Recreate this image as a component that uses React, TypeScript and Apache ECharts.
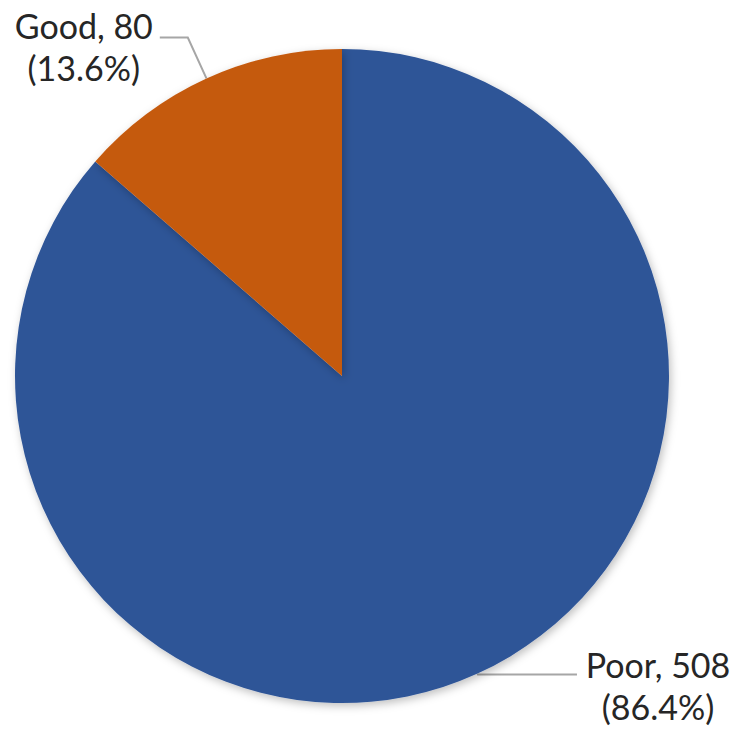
import React, { useEffect, useRef } from "react";
import * as echarts from "echarts";

const categories = ["Poor", "Good"];
const counts = [508, 80];
const percents = ["86.4%", "13.6%"];
const colors = ["#2F5597", "#C55A11"];

export default function App() {
  const ref = useRef<HTMLDivElement>(null);
  useEffect(() => {
    if (!ref.current) return;
    const chart = echarts.init(ref.current, null, { renderer: "svg" });
    const font = "Lato, 'Open Sans', sans-serif";
    const data = categories.map((name, i) => ({
      name,
      value: counts[i],
      itemStyle: { color: colors[i] },
      label: {
        formatter: `{a|${name}, ${counts[i]}}\n{a|(${percents[i]})}`,
        padding: i === 0 ? [22, 0, 0, 0] : [18, 0, 0, 0],
        rich: {
          a: {
            width: i === 0 ? 150 : 140,
            align: "center",
            fontSize: 34,
            lineHeight: 42,
            color: "#262626",
            fontFamily: font,
          },
        },
      },
      labelLine: i === 0 ? { length: 1, length2: 99 } : { length: 45, length2: 28 },
    }));
    chart.setOption({
      animation: false,
      backgroundColor: "#ffffff",
      series: [
        {
          type: "pie",
          center: [342, 376],
          radius: 327,
          startAngle: 90,
          clockwise: true,
          avoidLabelOverlap: false,
          data,
          itemStyle: {
            borderWidth: 0,
            shadowBlur: 8,
            shadowColor: "rgba(0,0,0,0.25)",
            shadowOffsetX: 2,
            shadowOffsetY: 3,
          },
          label: {
            show: true,
            position: "outside",
            alignTo: "none",
            edgeDistance: 0,
            distanceToLabelLine: 6,
          },
          labelLine: {
            show: true,
            smooth: false,
            lineStyle: { color: "#A6A6A6", width: 2 },
          },
          emphasis: { disabled: true },
        },
      ],
    });
    return () => chart.dispose();
  }, []);
  return (
    <div
      ref={ref}
      style={{ position: "fixed", left: 0, top: 0, width: 750, height: 733 }}
    />
  );
}
